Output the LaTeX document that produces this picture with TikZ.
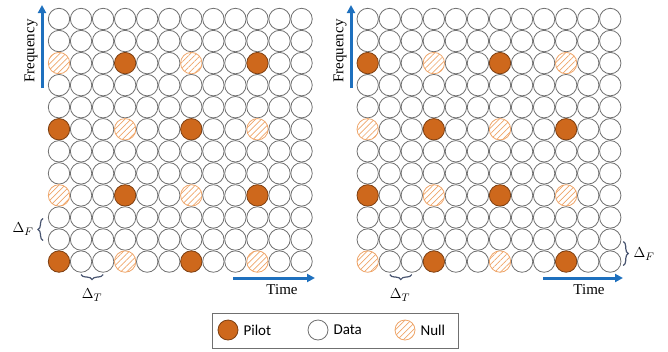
\documentclass[tikz,border=0pt]{standalone}
\usepackage{fontspec}
\setmainfont{Liberation Serif}
\newfontfamily\legendfont{Carlito}
\usetikzlibrary{arrows.meta, patterns.meta, decorations.pathreplacing, positioning}
\definecolor{pilotorange}{RGB}{206,104,28}
\definecolor{nullorange}{RGB}{238,165,105}
\definecolor{axisblue}{RGB}{30,112,190}
\definecolor{bracegray}{RGB}{72,84,112}
\definecolor{circgray}{RGB}{112,112,112}

\begin{document}
\begin{tikzpicture}[x=1pt, y=-1pt,
			>={Triangle[length=8pt, width=8pt]},   %Pfeilspitzen
			data/.style={circle, draw=circgray, line width=0.8pt, fill=white, minimum size=21.4pt, inner sep=0pt},
			pilot/.style={data, fill=pilotorange, draw=pilotorange!60!black},
			null/.style={data, draw=nullorange, pattern={Lines[angle=45, distance=4.2pt, line width=0.7pt]}, pattern color=nullorange},
			kind0/.style={data}, kind1/.style={pilot}, kind2/.style={null},
			axis/.style={->, axisblue, line width=3pt},
			bracket/.style={decorate, decoration={brace, amplitude=5pt}, bracegray, line width=1.2pt},
			lbl/.style={font=\fontsize{15}{18}\selectfont, inner sep=1pt}]
			\useasboundingbox (0,0) rectangle (668,351);
			%Linkes Raster
			\foreach \r in {1,...,12}
				\foreach \c in {1,...,12} {
					\pgfmathtruncatemacro\kind{(mod(\r,3)==0 && mod(\c-1,3)==0) ? (mod(\r/3+(\c-1)/3,2)==0 ? 1 : 2) : 0}
					\node[kind\kind] (L-\r-\c) at (59+22.05*\c-22.05, 19+22.05*\r-22.05) {};
				}
			%Rechtes Raster
			\foreach \r in {1,...,12}
				\foreach \c in {1,...,12} {
					\pgfmathtruncatemacro\kind{(mod(\r,3)==0 && mod(\c-1,3)==0) ? (mod(\r/3+(\c-1)/3,2)==0 ? 2 : 1) : 0}
					\node[kind\kind] (R-\r-\c) at (367.7+22.05*\c-22.05, 19+22.05*\r-22.05) {};
				}
			% Achsen links
			\coordinate (LF0) at (42,88);
			\coordinate (LF1) at (42,5);
			\draw[axis] (LF0) -- (LF1);
			\node[lbl, rotate=90] (Lfreq) at (31,51) {Frequency};
			\coordinate (LT0) at (233,278);
			\coordinate (LT1) at (315,278);
			\draw[axis] (LT0) -- (LT1);
			\node[lbl] (Ltime) at (282,290) {Time};
			% Achsen rechts
			\coordinate (RF0) at (351,88);
			\coordinate (RF1) at (351,5);
			\draw[axis] (RF0) -- (RF1);
			\node[lbl, rotate=90] (Rfreq) at (340,51) {Frequency};
			\coordinate (RT0) at (543,278);
			\coordinate (RT1) at (623,278);
			\draw[axis] (RT0) -- (RT1);
			\node[lbl] (Rtime) at (589,290) {Time};
			% Abstaende
			\draw[bracket] ([yshift=-13pt]L-12-3.center) -- ([yshift=-13pt]L-12-2.center);
			\node[lbl] (LdT) at (92,295) {$\Delta_T$};
			\draw[bracket] ([xshift=-16pt, yshift=-1pt]L-11-1.center) -- ([xshift=-16pt, yshift=-1pt]L-10-1.center);
			\node[lbl] (LdF) at (23,229) {$\Delta_F$};
			\draw[bracket] ([yshift=-13pt]R-12-3.center) -- ([yshift=-13pt]R-12-2.center);
			\node[lbl] (RdT) at (400,295) {$\Delta_T$};
			\draw[bracket] ([xshift=13pt, yshift=-2pt]R-11-12.center) -- ([xshift=13pt, yshift=-4pt]R-12-12.center);
			\node[lbl] (RdF) at (644,254) {$\Delta_F$};
			%Legende
			\node[draw=circgray, line width=0.9pt, minimum width=246pt, minimum height=35pt] (legend) at (335,330.5) {};
			\node[pilot, minimum size=20pt] (legP) at (228,330) {};
			\node[lbl, font=\legendfont\fontsize{15}{18}\selectfont, right=4pt of legP] (legPt) {Pilot};
			\node[data, minimum size=20pt] (legD) at (318,330) {};
			\node[lbl, font=\legendfont\fontsize{15}{18}\selectfont, right=4pt of legD] (legDt) {Data};
			\node[null, minimum size=20pt] (legN) at (405,330) {};
			\node[lbl, font=\legendfont\fontsize{15}{18}\selectfont, right=4pt of legN] (legNt) {Null};
		\end{tikzpicture}
\end{document}
